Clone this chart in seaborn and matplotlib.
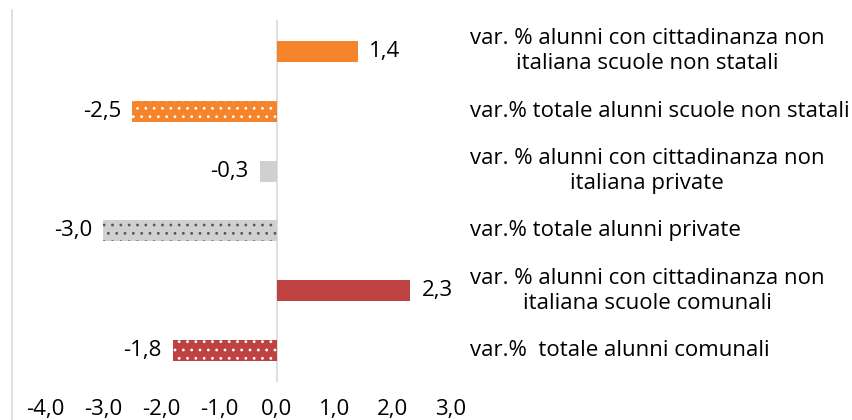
import matplotlib
matplotlib.use("Agg")
import matplotlib.pyplot as plt
import matplotlib.transforms as mtransforms
import seaborn as sns
import pandas as pd
from matplotlib.lines import Line2D

# Variazioni percentuali degli alunni per tipo di scuola
categorie = [
    "var. % alunni con cittadinanza non\nitaliana scuole non statali",
    "var.% totale alunni scuole non statali",
    "var. % alunni con cittadinanza non\nitaliana private",
    "var.% totale alunni private",
    "var. % alunni con cittadinanza non\nitaliana scuole comunali",
    "var.%  totale alunni comunali",
]
valori = [1.4, -2.5, -0.3, -3.0, 2.3, -1.8]
colori = ["#F5852A", "#F5852A", "#D0D0D0", "#D0D0D0", "#BE4242", "#BE4242"]
tratteggio = ["", "..", "", "..", "", ".."]
colore_punti = ["#F5852A", "#FFFFFF", "#D0D0D0", "#555555", "#BE4242", "#FFFFFF"]
tick_x = [-4, -3, -2, -1, 0, 1, 2, 3]

df = pd.DataFrame({"categoria": categorie, "valore": valori})

sns.set_theme(style="white")
plt.rcParams["font.family"] = ["Open Sans", "DejaVu Sans"]
plt.rcParams["hatch.linewidth"] = 0.8

FS = 16
W, H = 853, 420
fig = plt.figure(figsize=(W / 100, H / 100), dpi=100)

# plot area in pixel terms: left 12, right 463, top 20, bottom 382
left_px, right_px, top_px, bot_px = 12, 463, 20, 382
ax = fig.add_axes([left_px / W, 1 - bot_px / H,
                   (right_px - left_px) / W, (bot_px - top_px) / H])

sns.barplot(data=df, y="categoria", x="valore", hue="categoria",
            palette=colori, saturation=1, legend=False, width=0.35,
            orient="h", ax=ax, linewidth=0)

for patch, h, ec in zip(ax.patches, tratteggio, colore_punti):
    patch.set_hatch(h)
    patch.set_edgecolor(ec)
    patch.set_linewidth(0)

px_per_unit = 58.0
x0_px = 277
ax.set_xlim((left_px - x0_px) / px_per_unit, (right_px - x0_px) / px_per_unit)
ax.set_ylim(5.517, -0.517)

ax.axvline(0, color="#D9D9D9", lw=1.2, zorder=0.5)

for s in ax.spines.values():
    s.set_visible(False)

ax.set_xticks(tick_x)
ax.set_xticklabels([f"{t:.1f}".replace(".", ",") for t in tick_x],
                   fontsize=FS, color="#000000")
ax.tick_params(axis="x", length=0, pad=12)
ax.set_yticks([])
ax.set_xlabel("")
ax.set_ylabel("")

# value labels
for cont in ax.containers:
    labs = [f"{v:.1f}".replace(".", ",") for v in cont.datavalues]
    ax.bar_label(cont, labels=labs, padding=8, fontsize=FS, color="#000000")

# category labels on the right
trans = mtransforms.blended_transform_factory(fig.transFigure, ax.transData)
for i, c in enumerate(categorie):
    ax.text(470 / W, i, c, transform=trans,
            ha="left", va="center", multialignment="center",
            fontsize=FS, color="#000000", linespacing=1.2)

# left border line
fig.add_artist(Line2D([left_px / W, left_px / W], [0, 1 - 10 / H],
                      transform=fig.transFigure, color="#D9D9D9", lw=1.2))

fig.savefig("out.png", dpi=100)
